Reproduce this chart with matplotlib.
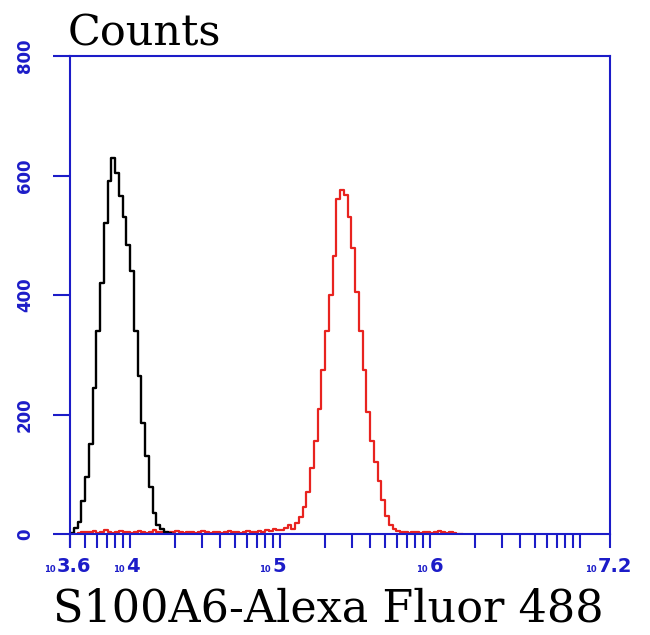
import matplotlib.pyplot as plt
import numpy as np

# histogram channels: log10 bin centers start + width
bin_start = 3.6125
bin_width = 0.025

# black histogram (isotype / control)
black_counts = [2, 10, 20, 55, 95, 150, 245, 340, 420, 520, 590, 630, 604, 565,
                530, 484, 440, 340, 265, 186, 130, 78, 35, 15, 8, 4, 2, 0]

# red histogram (S100A6 stained)
red_counts = [0, 0, 2, 3, 4, 3, 5, 2, 4, 6, 3, 2, 4, 5, 3, 4, 2, 3, 5, 4,
              2, 3, 6, 4, 3, 2, 4, 3, 5, 3, 2, 4, 3, 2, 4, 5, 3, 2, 3, 4,
              2, 3, 5, 3, 4, 2, 3, 5, 4, 3, 5, 4, 6, 5, 8, 6, 6, 10, 15, 9,
              18, 28, 45, 70, 110, 155, 210, 275, 340, 400, 465, 560, 576, 568, 530, 478,
              405, 340, 275, 205, 155, 120, 88, 57, 30, 15, 9, 5, 3, 4,
              2, 3, 3, 2, 4, 3, 2, 3, 5, 3, 2, 4, 2, 0, 0]

y_ticks = [0, 200, 400, 600, 800]
x_major_exp = [3.6, 4, 5, 6, 7.2]
x_major_text = ['3.6', '4', '5', '6', '7.2']
# where the small "10" meets the exponent, in points from the tick
x_label_split = [-10, -3.5, -6, -1, -9]

blue = '#1c1cc8'

fig = plt.figure(figsize=(6.5, 6.35), dpi=100)
ax = fig.add_axes([0.1077, 0.159, 0.8308, 0.7528])

bx = 10 ** (bin_start + bin_width * np.arange(len(black_counts)))
rx = 10 ** (bin_start + bin_width * np.arange(len(red_counts)))
ax.plot(rx, red_counts, drawstyle='steps-mid', color='#e8231f', lw=1.6)
ax.plot(bx, black_counts, drawstyle='steps-mid', color='black', lw=1.7)

ax.set_xscale('log')
ax.set_xlim(10 ** 3.6, 10 ** 7.2)
ax.set_ylim(0, 800)

ax.set_xticks([10 ** e for e in x_major_exp])
ax.set_xticklabels([''] * len(x_major_exp))
minor = [k * 10 ** e for e in range(3, 8) for k in range(1, 10)]
minor = [m for m in minor if 10 ** 3.6 < m < 10 ** 7.2 and m not in (1e4, 1e5, 1e6)]
ax.set_xticks(minor, minor=True)
ax.xaxis.set_minor_formatter(plt.NullFormatter())

for e, t, dx in zip(x_major_exp, x_major_text, x_label_split):
    ax.annotate('10', (10 ** e, 0), xycoords=('data', 'axes fraction'),
                xytext=(dx - 0.5, -27.5), textcoords='offset points',
                ha='right', va='baseline', fontsize=6, fontweight='bold',
                color=blue, family='DejaVu Sans', annotation_clip=False)
    ax.annotate(t, (10 ** e, 0), xycoords=('data', 'axes fraction'),
                xytext=(dx + 0.5, -27.5), textcoords='offset points',
                ha='left', va='baseline', fontsize=14, fontweight='bold',
                color=blue, family='DejaVu Sans', annotation_clip=False)

ax.set_yticks(y_ticks)
ax.set_yticklabels([str(v) for v in y_ticks])

ax.tick_params(axis='x', which='both', direction='out', length=10, width=1.5,
               colors=blue)
ax.tick_params(axis='y', direction='out', length=12, width=1.5, colors=blue,
               labelsize=12, pad=14, labelrotation=90)
for lab in ax.get_yticklabels():
    lab.set_va('center')
    lab.set_fontfamily('DejaVu Sans')
    lab.set_fontweight('bold')

for s in ax.spines.values():
    s.set_color(blue)
    s.set_linewidth(1.5)

fig.text(68 / 650, 1 - 45 / 635, 'Counts', fontsize=31, family='DejaVu Serif',
         va='baseline', ha='left')
fig.text(328 / 650, 1 - 622 / 635, 'S100A6-Alexa Fluor 488', fontsize=32,
         family='DejaVu Serif', va='baseline', ha='center')

fig.savefig('out.png', dpi=100)
